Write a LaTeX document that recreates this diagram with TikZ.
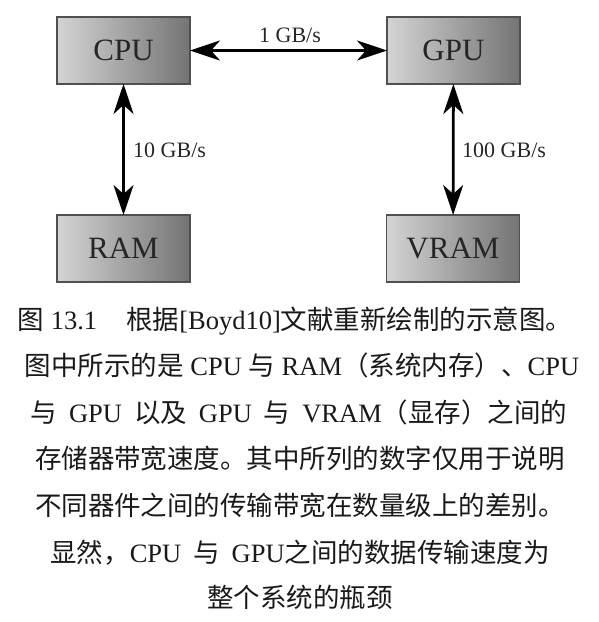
\documentclass[tikz,border=0pt]{standalone}
\usepackage{fontspec}
\setmainfont{Liberation Serif}
\newfontfamily\cjk{Noto Sans CJK SC}
\usetikzlibrary{arrows.meta}
\newcommand\zh[1]{{\cjk #1}}
\newcommand\ws{\hspace{0.45em}}
\definecolor{boxleft}{HTML}{D4D4D4}
\definecolor{boxright}{HTML}{747474}
\definecolor{boxedge}{HTML}{505050}
\tikzset{
  membox/.style={draw=boxedge, line width=1.3pt, left color=boxleft, right color=boxright,
    minimum width=133pt, minimum height=67pt, inner sep=0pt, outer sep=0pt,
    font=\fontsize{31}{36}\selectfont, text=black!85},
  link/.style={line width=2.8pt, {Stealth[length=30pt,width=20pt,inset=9pt]}-{Stealth[length=30pt,width=20pt,inset=9pt]}},
  bw/.style={font=\fontsize{22}{26}\selectfont, text=black!85, inner sep=0pt},
  capline/.style={anchor=base, inner sep=0pt, font=\fontsize{26.5}{30}\selectfont, text=black!90}
}
\begin{document}
\begin{tikzpicture}[x=1pt,y=-1pt]
\useasboundingbox (0,0) rectangle (598,622);
\node[membox] (cpu) at (123.5,50.5) {CPU};
\node[membox] (gpu) at (453.5,50.5) {GPU};
\node[membox] (ram) at (123.5,248.5) {RAM};
\node[membox] (vram) at (453,248.5) {VRAM};
\draw[link] (cpu) -- (gpu);
\draw[link] (cpu) -- (ram);
\draw[link] (gpu) -- (vram);
\node[bw] (l1) at (290,35) {1 GB/s};
\node[bw, anchor=west] (l2) at (133,150) {10 GB/s};
\node[bw, anchor=west] (l3) at (462,150) {100 GB/s};
\node[capline] (c1) at (295,329) {\zh{图} 13.1\hspace{1.1em}\zh{根据}[Boyd10]\zh{文献重新绘制的示意图。}};
\node[capline] (c2) at (302,375) {\zh{图中所示的是} CPU \zh{与} RAM\zh{（系统内存）、}CPU};
\node[capline] (c3) at (299,422) {\zh{与}\ws GPU\ws\zh{以及}\ws GPU\ws\zh{与}\ws VRAM\zh{（显存）之间的}};
\node[capline] (c4) at (300,468) {\zh{存储器带宽速度。其中所列的数字仅用于说明}};
\node[capline] (c5) at (300,515) {\zh{不同器件之间的传输带宽在数量级上的差别。}};
\node[capline] (c6) at (300,562) {\zh{显然，}CPU\ws\zh{与}\ws GPU\zh{之间的数据传输速度为}};
\node[capline] (c7) at (300,607) {\zh{整个系统的瓶颈}};
\end{tikzpicture}
\end{document}
